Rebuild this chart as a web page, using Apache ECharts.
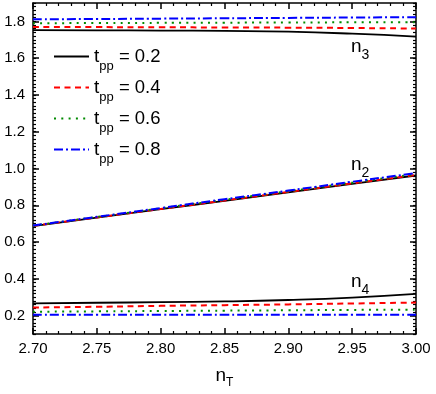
<!DOCTYPE html>
<html>
<head>
<meta charset="utf-8">
<script src="https://cdn.jsdelivr.net/npm/echarts@6/dist/echarts.min.js"></script>
<style>
html,body{margin:0;padding:0;background:#fff;}
#chart{width:436px;height:394px;}
</style>
</head>
<body>
<div id="chart"></div>
<script>
// ---- data ----
const nT = [2.70, 2.75, 2.80, 2.85, 2.90, 2.95, 3.00];
const tppNames = ['0.2', '0.4', '0.6', '0.8'];
// n3 branch
const n3_02 = [1.752, 1.751, 1.750, 1.748, 1.744, 1.733, 1.717];
const n3_04 = [1.770, 1.769, 1.768, 1.767, 1.766, 1.764, 1.761];
const n3_06 = [1.790, 1.791, 1.792, 1.793, 1.794, 1.795, 1.796];
const n3_08 = [1.811, 1.813, 1.815, 1.817, 1.819, 1.821, 1.823];
// n2 branch
const n2_02 = [0.687, 0.733, 0.779, 0.824, 0.870, 0.916, 0.962];
const n2_04 = [0.688, 0.734, 0.780, 0.826, 0.873, 0.919, 0.965];
const n2_06 = [0.689, 0.736, 0.783, 0.830, 0.876, 0.923, 0.970];
const n2_08 = [0.690, 0.737, 0.785, 0.833, 0.880, 0.928, 0.975];
// n4 branch
const n4_02 = [0.267, 0.270, 0.273, 0.277, 0.285, 0.298, 0.318];
const n4_04 = [0.244, 0.248, 0.253, 0.257, 0.261, 0.266, 0.271];
const n4_06 = [0.221, 0.223, 0.225, 0.227, 0.229, 0.231, 0.232];
const n4_08 = [0.205, 0.205, 0.205, 0.205, 0.205, 0.205, 0.205];
// ticks
const yTickValues = [0.2, 0.4, 0.6, 0.8, 1.0, 1.2, 1.4, 1.6, 1.8];
// curve labels [text, subscript, x, y]
const curveLabels = [
  ['n', '3', 2.949, 1.662],
  ['n', '2', 2.949, 1.020],
  ['n', '4', 2.949, 0.383]
];

// ---- styles ----
const colors = {'0.2': '#000000', '0.4': '#ff0000', '0.6': '#008a00', '0.8': '#0000ff'};
const dash = {'0.2': 'solid', '0.4': [6, 4.5], '0.6': [2, 5.3], '0.8': [9, 3, 2, 3]};
const widths = {'0.2': 1.8, '0.4': 2, '0.6': 2, '0.8': 2};

const groups = [
  ['0.2', [n3_02, n2_02, n4_02]],
  ['0.4', [n3_04, n2_04, n4_04]],
  ['0.6', [n3_06, n2_06, n4_06]],
  ['0.8', [n3_08, n2_08, n4_08]]
];
const series = [];
groups.forEach(([name, arrs]) => {
  arrs.forEach(arr => {
    series.push({
      type: 'line', name: name, smooth: true, symbol: 'none',
      data: nT.map((x, i) => [x, arr[i]]),
      lineStyle: {color: colors[name], width: widths[name], type: dash[name]},
      itemStyle: {color: colors[name]},
      z: 5
    });
  });
});

const font = 'Liberation Sans, Arial, sans-serif';
const axisLine = {show: true, onZero: false, lineStyle: {color: '#000', width: 1.5, opacity: 1}};
const majorTickStyle = {color: '#000', width: 1.5, opacity: 1};
const minorTickStyle = {color: '#000', width: 1.2, opacity: 1};

function xAx(pos, labels) {
  return {
    type: 'value', position: pos, min: 2.7, max: 3.0, interval: 0.05,
    axisLine: axisLine,
    axisTick: {show: true, inside: true, length: 6, lineStyle: majorTickStyle},
    minorTick: {show: true, splitNumber: 5, length: 3, lineStyle: minorTickStyle},
    splitLine: {show: false}, minorSplitLine: {show: false},
    axisLabel: {show: labels, margin: 7, color: '#000', fontSize: 15, fontFamily: font,
      formatter: v => v.toFixed(2)},
    name: labels ? '{n|n}{s|T}' : '',
    nameLocation: 'middle', nameGap: 29,
    nameTextStyle: {fontFamily: font, color: '#000',
      rich: {
        n: {fontSize: 19, fontFamily: font, color: '#000', lineHeight: 22},
        s: {fontSize: 12, fontFamily: font, color: '#000', padding: [14, 0, 0, 0]}
      }}
  };
}
function yMajor(pos, labels) {
  return {
    type: 'value', position: pos, min: 0.1, max: 1.9, interval: 0.1,
    axisLine: axisLine,
    axisTick: {show: true, inside: true, length: 6, customValues: yTickValues,
      lineStyle: majorTickStyle},
    splitLine: {show: false},
    axisLabel: {show: labels, margin: 8, color: '#000', fontSize: 15, fontFamily: font,
      customValues: yTickValues, formatter: v => v.toFixed(1)}
  };
}
function yMinor(pos) {
  return {
    type: 'value', position: pos, min: 0.1, max: 1.9, interval: 0.02,
    axisLine: {show: false},
    axisTick: {show: true, inside: true, length: 3, lineStyle: minorTickStyle},
    splitLine: {show: false},
    axisLabel: {show: false}
  };
}

const chart = echarts.init(document.getElementById('chart'), null, {renderer: 'canvas'});
chart.setOption({
  animation: false,
  grid: {left: 33, right: 20, top: 3, bottom: 50, containLabel: false},
  xAxis: [xAx('bottom', true), xAx('top', false)],
  yAxis: [yMajor('left', true), yMinor('left'), yMajor('right', false), yMinor('right')],
  legend: {
    data: tppNames, orient: 'vertical', left: 48, top: 42,
    itemWidth: 35, itemHeight: 14, itemGap: 5,
    itemStyle: {opacity: 0},
    formatter: name => '{t|t}{s|pp}{v| = ' + name + '}',
    textStyle: {fontFamily: font, color: '#000',
      rich: {
        t: {fontSize: 19, fontFamily: font, color: '#000', lineHeight: 22},
        s: {fontSize: 13, fontFamily: font, color: '#000', padding: [20, 0, 0, 0]},
        v: {fontSize: 18.5, fontFamily: font, color: '#000', lineHeight: 22}
      }}
  },
  series: series
});

const graphics = curveLabels.map(([m, s, x, y]) => {
  const p = chart.convertToPixel({xAxisIndex: 0, yAxisIndex: 0}, [x, y]);
  return {
    type: 'text', x: p[0], y: p[1], z: 10,
    style: {
      text: '{n|' + m + '}{s|' + s + '}',
      textAlign: 'left', textVerticalAlign: 'middle',
      rich: {
        n: {fontSize: 19, fontFamily: font, fill: '#000', lineHeight: 22},
        s: {fontSize: 14, fontFamily: font, fill: '#000', padding: [17, 0, 0, 0]}
      }
    }
  };
});
chart.setOption({graphic: graphics});
</script>
</body>
</html>
